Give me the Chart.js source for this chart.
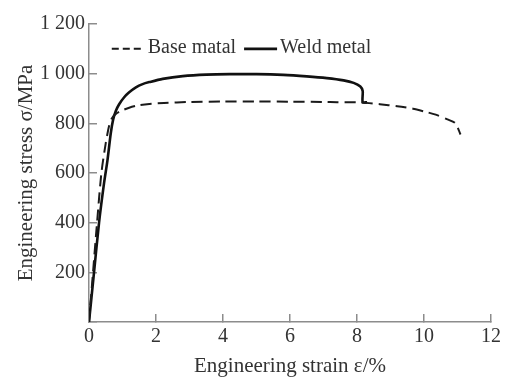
<!DOCTYPE html>
<html>
<head>
<meta charset="utf-8">
<script src="https://cdn.jsdelivr.net/npm/chart.js@4"></script>
<style>
  html, body { margin: 0; padding: 0; background: #fff; }
  #wrap { width: 512px; height: 379px; }
</style>
</head>
<body>
<div id="wrap"><canvas id="chart" width="512" height="379"></canvas></div>
<script>
// strain in %, stress in MPa
const baseStrain = [0, 0.12, 0.24, 0.37, 0.5, 0.6, 0.68, 0.8, 0.96, 1.2, 1.45, 1.8, 2.24, 3, 4, 5, 6, 7, 7.4, 8.1, 8.68, 9.2, 9.67, 10.0, 10.35, 10.7, 10.94, 11.09]
const baseStress = [0, 200, 400, 600, 720, 790, 820, 838, 850, 863, 872, 878, 882, 886, 888, 888, 887, 886, 885, 884, 877, 869, 859, 848, 835, 816, 800, 755]

const weldStrain = [0, 0.15, 0.3, 0.45, 0.55, 0.65, 0.72, 0.8, 0.9, 1.05, 1.2, 1.4, 1.6, 1.8, 2.2, 2.8, 3.5, 4.2, 5.0, 5.8, 6.5, 7.1, 7.6, 7.9, 8.1, 8.17, 8.17, 8.3]
const weldStress = [0, 200, 400, 560, 650, 760, 815, 850, 877, 905, 925, 945, 958, 966, 979, 990, 996, 998, 998, 995, 989, 982, 973, 963, 948, 930, 885, 885]

const seriesNames = ['Base matal', 'Weld metal']
const xTicks = [0, 2, 4, 6, 8, 10, 12]
const yTicks = [200, 400, 600, 800, 1000, 1200]

const axisGray = '#8c8c8c'
const textColor = '#333333'
const font = { family: "'Liberation Serif', 'Times New Roman', serif", size: 20 }
const titleFont = { family: "'Liberation Serif', 'Times New Roman', serif", size: 21 }

function points(xs, ys) {
  return xs.map((x, i) => ({ x: x, y: ys[i] }))
}

function fmt(v) {
  let s = String(v)
  if (s.length > 3) s = s.slice(0, s.length - 3) + ' ' + s.slice(-3)
  return s
}

// legend drawn inside the plot, like the picture
const innerLegend = {
  id: 'innerLegend',
  afterDraw(chart) {
    const ctx = chart.ctx
    const x = chart.scales.x
    const y = chart.scales.y
    let px = x.getPixelForValue(0.68)
    const py = y.getPixelForValue(1100)
    ctx.save()
    ctx.font = font.size + 'px ' + font.family
    ctx.textBaseline = 'middle'
    ctx.fillStyle = textColor
    chart.data.datasets.forEach(ds => {
      ctx.strokeStyle = ds.borderColor
      ctx.lineWidth = ds.borderWidth
      ctx.setLineDash(ds.borderDash && ds.borderDash.length ? [7, 4] : [])
      ctx.beginPath()
      ctx.moveTo(px, py)
      ctx.lineTo(px + 33, py)
      ctx.stroke()
      ctx.setLineDash([])
      ctx.fillText(ds.label, px + 36, py - 1)
      px += 36 + ctx.measureText(ds.label).width + 8
    })
    ctx.restore()
  }
}

let ctx = document.getElementById('chart').getContext('2d')
let myChart = new Chart(ctx, {
  type: 'scatter',
  data: {
    datasets: [{
      label: seriesNames[0],
      data: points(baseStrain, baseStress),
      showLine: true,
      borderColor: '#1a1a1a',
      borderWidth: 2,
      borderDash: [11, 6],
      pointRadius: 0,
      tension: 0.25
    }, {
      label: seriesNames[1],
      data: points(weldStrain, weldStress),
      showLine: true,
      borderColor: '#111111',
      borderWidth: 2.6,
      pointRadius: 0,
      tension: 0.25
    }]
  },
  options: {
    responsive: false,
    animation: false,
    layout: { padding: { top: 22, right: 16, left: 0, bottom: 0 } },
    plugins: {
      legend: { display: false },
      tooltip: { enabled: false }
    },
    scales: {
      x: {
        type: 'linear',
        min: 0,
        max: 12,
        afterBuildTicks: s => { s.ticks = xTicks.map(v => ({ value: v })) },
        afterFit: s => { s.height = 57 },
        border: { color: axisGray, width: 1.5 },
        grid: { drawOnChartArea: false, tickLength: -8, color: axisGray, lineWidth: 1.5 },
        ticks: { color: textColor, font: font, padding: 11, maxRotation: 0, callback: v => fmt(v) },
        title: { display: true, text: 'Engineering strain ε/%', color: textColor, font: titleFont, padding: 0 }
      },
      y: {
        type: 'linear',
        min: 0,
        max: 1200,
        afterBuildTicks: s => { s.ticks = [0].concat(yTicks).map(v => ({ value: v })) },
        afterFit: s => { s.width = 89 },
        border: { color: axisGray, width: 1.5 },
        grid: { drawOnChartArea: false, tickLength: -8, color: axisGray, lineWidth: 1.5 },
        ticks: { color: textColor, font: font, padding: 12, callback: v => v === 0 ? '' : fmt(v) },
        title: { display: true, text: 'Engineering stress σ/MPa', color: textColor, font: titleFont, padding: 14 }
      }
    }
  },
  plugins: [innerLegend]
})
</script>
</body>
</html>
